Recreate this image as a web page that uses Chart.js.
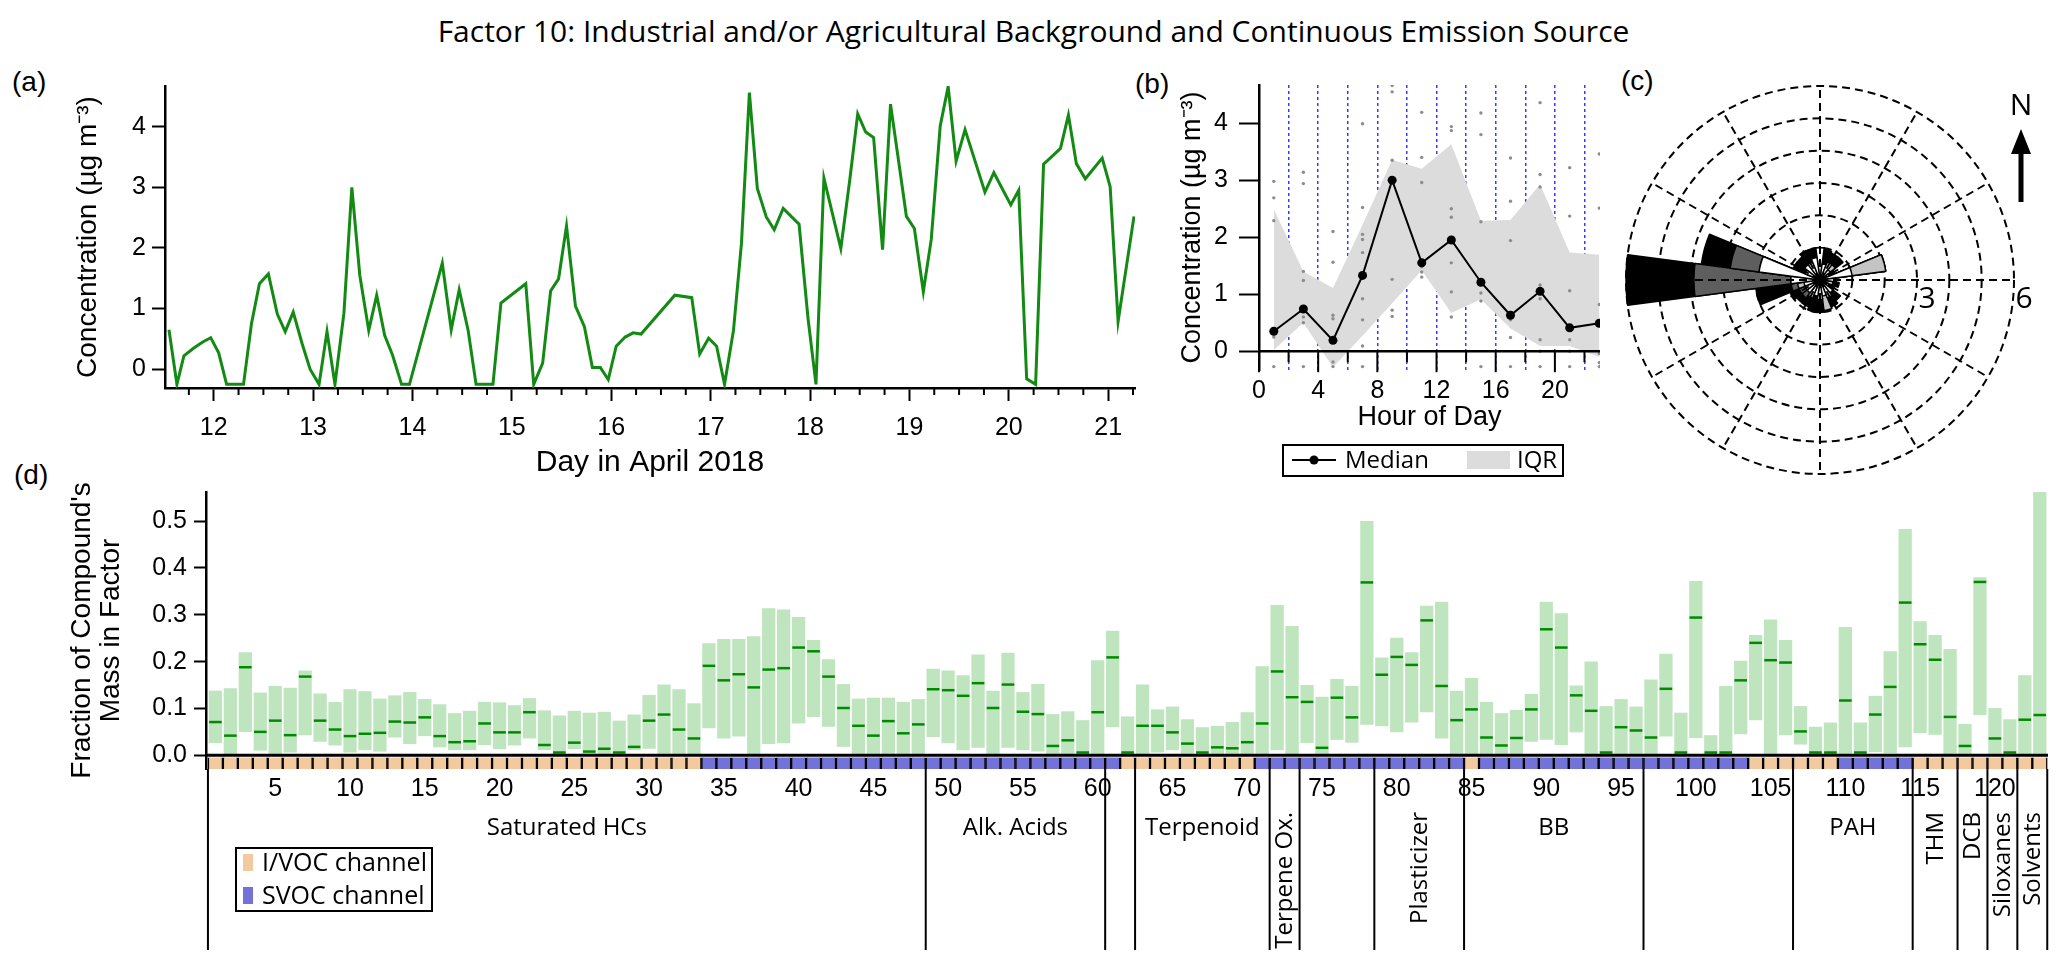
<!DOCTYPE html>
<html lang="en">
<head>
<meta charset="UTF-8">
<title>Factor 10: Industrial and/or Agricultural Background and Continuous Emission Source</title>
<script src="https://cdn.jsdelivr.net/npm/chart.js"></script>
<style>
  body { margin: 0; width: 2067px; height: 969px; background: #fff; position: relative; overflow: hidden;
         font-family: 'Liberation Sans', Arial, sans-serif; color: #000; }
  canvas { position: absolute; }
  .lbl { position: absolute; font-size: 28px; line-height: 28px; }
  #title { position: absolute; left: 0; width: 2067px; top: 16px; text-align: center;
           font: 30px/30px 'Open Sans', sans-serif; }
</style>
</head>
<body>
<div id="title">Factor 10: Industrial and/or Agricultural Background and Continuous Emission Source</div>
<div class="lbl" style="left:12px;top:68px">(a)</div>
<div class="lbl" style="left:1135px;top:70px">(b)</div>
<div class="lbl" style="left:1621px;top:67px">(c)</div>
<div class="lbl" style="left:14px;top:461px">(d)</div>
<canvas id="chartA" width="1160" height="430" style="left:0;top:60px"></canvas>
<canvas id="chartB" width="480" height="440" style="left:1140px;top:60px"></canvas>
<canvas id="chartC" width="447" height="440" style="left:1620px;top:60px"></canvas>
<canvas id="chartD" width="2067" height="489" style="left:0;top:480px"></canvas>

<script>
// ---- (a) time series ----
const seriesDays = [
  11.55, 11.63, 11.70, 11.80, 11.89, 11.97, 12.05, 12.13, 12.30, 12.38,
  12.46, 12.55, 12.64, 12.72, 12.80, 12.89, 12.97, 13.06, 13.14, 13.22,
  13.31, 13.39, 13.47, 13.56, 13.64, 13.72, 13.80, 13.89, 13.97, 14.30,
  14.39, 14.47, 14.56, 14.64, 14.81, 14.89, 15.14, 15.22, 15.31, 15.39,
  15.47, 15.55, 15.64, 15.73, 15.81, 15.89, 15.97, 16.05, 16.14, 16.22,
  16.30, 16.64, 16.81, 16.89, 16.98, 17.06, 17.14, 17.23, 17.31, 17.39,
  17.47, 17.56, 17.64, 17.73, 17.89, 17.98, 18.06, 18.14, 18.31, 18.40,
  18.48, 18.56, 18.64, 18.73, 18.81, 18.89, 18.97, 19.05, 19.14, 19.22,
  19.31, 19.39, 19.47, 19.56, 19.76, 19.85, 20.02, 20.10, 20.18, 20.27,
  20.35, 20.43, 20.52, 20.60, 20.68, 20.77, 20.94, 21.02, 21.10, 21.26
];
const seriesConc = [
  0.65, -0.25, 0.22, 0.35, 0.45, 0.52, 0.27, -0.25, -0.25, 0.75,
  1.41, 1.57, 0.91, 0.62, 0.94, 0.42, 0.00, -0.25, 0.62, -0.25,
  0.92, 3.00, 1.55, 0.64, 1.22, 0.56, 0.23, -0.25, -0.25, 1.75,
  0.65, 1.31, 0.64, -0.25, -0.25, 1.09, 1.41, -0.25, 0.10, 1.29,
  1.49, 2.36, 1.04, 0.70, 0.03, 0.03, -0.17, 0.38, 0.53, 0.60,
  0.58, 1.22, 1.18, 0.25, 0.51, 0.38, -0.25, 0.64, 2.07, 4.56,
  2.98, 2.51, 2.30, 2.65, 2.39, 0.84, -0.25, 3.15, 1.99, 3.12,
  4.21, 3.91, 3.82, 1.97, 4.37, 3.45, 2.52, 2.32, 1.28, 2.14,
  4.01, 4.66, 3.43, 3.95, 2.92, 3.24, 2.71, 2.95, -0.16, -0.25,
  3.38, 3.50, 3.64, 4.19, 3.39, 3.14, 3.48, 3.01, 0.79, 2.52
];
const dayTicks = [12, 13, 14, 15, 16, 17, 18, 19, 20, 21];
const concTicks = [0, 1, 2, 3, 4];

// ---- (b) diurnal profile ----
const hourBins = [1, 3, 5, 7, 9, 11, 13, 15, 17, 19, 21, 23];
const medianConc = [0.35, 0.74, 0.19, 1.33, 3.00, 1.55, 1.95, 1.21, 0.63, 1.05, 0.41, 0.49];
const iqrHigh = [2.49, 1.40, 1.11, 2.22, 3.36, 3.20, 3.63, 2.29, 2.30, 2.93, 1.73, 1.69];
const iqrLow = [0.02, 0.50, -0.28, 0.27, 0.84, 1.42, 0.67, 0.91, 0.40, 0.09, 0.09, -0.10];
const dotHour = [
  1, 1, 1, 1, 1,
  3, 3, 3, 3, 3, 3, 3,
  5, 5, 5, 5, 5, 5,
  7, 7, 7, 7, 7, 7, 7, 7, 7,
  9, 9, 9, 9, 9, 9,
  11, 11, 11, 11, 11, 11,
  13, 13, 13, 13, 13, 13, 13,
  15, 15, 15, 15, 15, 15,
  17, 17, 17, 17, 17, 17,
  19, 19, 19, 19, 19, 19, 19, 19,
  21, 21, 21, 21, 21, 21,
  23, 23, 23, 23, 23, 23
];
const dotConc = [
  2.98, 2.69, 2.29, 0.25, -0.27,
  3.14, 2.94, 1.40, 1.24, 0.60, 0.50, -0.27,
  2.10, 1.56, 0.63, 0.57, -0.19, -0.27,
  3.99, 2.52, 2.05, 1.96, 1.73, 0.92, 0.55, 0.09, -0.27,
  4.66, 4.55, 3.35, 1.26, 0.72, 0.61,
  4.19, 3.40, 2.96, 1.48, 1.39, 1.30,
  3.94, 3.87, 2.50, 2.35, 1.55, 1.04, 0.60,
  4.18, 3.80, 2.27, 1.02, 0.88, -0.27,
  3.39, 2.63, 1.94, 0.55, 0.24, -0.27,
  4.36, 3.10, 2.88, 1.16, 0.92, 0.20, 0.00, -0.27,
  3.22, 2.37, 1.06, 0.20, 0.00, -0.27,
  3.46, 2.51, 0.82, -0.04, -0.20, -0.27
];
const hourTicks = [0, 2, 4, 6, 8, 10, 12, 14, 16, 18, 20, 22];

// ---- (c) wind rose: 24 sectors, radius per bin (white, light grey, dark grey, black) ----
const windDirs = [0, 15, 30, 45, 60, 75, 90, 105, 120, 135, 150, 165,
                  180, 195, 210, 225, 240, 255, 270, 285, 300, 315, 330, 345];
const binWhite = [1.0, 0.5, 0.6, 0.4, 0.3, 1.0, 0.5, 0.4, 0.3, 0.5, 0.6, 0.5,
                  0.6, 0.5, 0.6, 0.5, 0.5, 0.5, 0.9, 1.9, 0.5, 0.6, 0.6, 0.7];
const binLight = [0, 0, 0, 0.2, 0, 1.05, 0, 0, 0, 0, 0, 0.45,
                  0, 0, 0, 0, 0, 0.2, 0, 0, 0, 0, 0, 0];
const binDark = [0, 0, 0, 0, 0, 0, 0, 0, 0, 0, 0, 0,
                 0, 0, 0, 0.2, 0.2, 0.2, 3.0, 0.9, 0, 0, 0, 0];
const binBlack = [0, 0.45, 0.3, 0.3, 0.2, 0, 0, 0.2, 0.2, 0.3, 0.3, 0,
                  0.4, 0.5, 0.3, 0.2, 0.3, 1.1, 2.1, 0.9, 0.4, 0.3, 0.4, 0.3];
const ringTicks = [3, 6];

// ---- (d) factor profile ----
const fracLow = [
  0.026, 0, 0.050, 0.010, 0, 0.006, 0.043, 0.029, 0.021, 0.006,
  0.011, 0.008, 0.038, 0.024, 0.041, 0.017, 0.011, 0.011, 0.022, 0.013,
  0.021, 0.036, 0.011, 0, 0.013, 0, 0, 0, 0.011, 0.014,
  0, 0, 0, 0.058, 0.036, 0.040, 0, 0.024, 0.026, 0.068,
  0.082, 0.061, 0.018, 0, 0, 0, 0, 0, 0.039, 0.026,
  0.011, 0.016, 0, 0.016, 0.011, 0.008, 0, 0, 0, 0,
  0.060, 0, 0, 0.006, 0.011, 0, 0, 0, 0, 0,
  0, 0.011, 0, 0.026, 0, 0.033, 0.027, 0.065, 0.062, 0.049,
  0.070, 0.092, 0.036, 0, 0, 0, 0, 0, 0.029, 0.033,
  0.022, 0.049, 0, 0, 0, 0, 0, 0.040, 0, 0.037,
  0, 0, 0.045, 0.075, 0, 0.043, 0.023, 0, 0, 0,
  0, 0.007, 0.004, 0.017, 0.047, 0.044, 0, 0, 0.086, 0,
  0, 0, 0
];
const fracHigh = [
  0.138, 0.143, 0.220, 0.134, 0.148, 0.144, 0.181, 0.132, 0.114, 0.141,
  0.137, 0.121, 0.128, 0.135, 0.120, 0.109, 0.090, 0.095, 0.114, 0.113,
  0.107, 0.122, 0.096, 0.085, 0.095, 0.091, 0.093, 0.074, 0.087, 0.129,
  0.151, 0.141, 0.111, 0.239, 0.248, 0.248, 0.254, 0.314, 0.311, 0.295,
  0.246, 0.205, 0.152, 0.121, 0.123, 0.123, 0.114, 0.120, 0.185, 0.181,
  0.171, 0.215, 0.138, 0.219, 0.135, 0.152, 0.088, 0.094, 0.075, 0.203,
  0.266, 0.083, 0.151, 0.098, 0.104, 0.077, 0.060, 0.063, 0.071, 0.092,
  0.190, 0.321, 0.276, 0.150, 0.125, 0.163, 0.148, 0.500, 0.209, 0.251,
  0.220, 0.319, 0.328, 0.138, 0.165, 0.114, 0.090, 0.097, 0.131, 0.328,
  0.303, 0.149, 0.200, 0.105, 0.120, 0.104, 0.162, 0.217, 0.091, 0.372,
  0.043, 0.148, 0.202, 0.257, 0.290, 0.246, 0.105, 0.061, 0.070, 0.274,
  0.070, 0.127, 0.222, 0.483, 0.286, 0.257, 0.227, 0.067, 0.380, 0.101,
  0.077, 0.171, 0.564
];
const fracMedian = [
  0.071, 0.042, 0.188, 0.050, 0.074, 0.043, 0.168, 0.074, 0.055, 0.041,
  0.046, 0.048, 0.072, 0.070, 0.081, 0.041, 0.028, 0.030, 0.068, 0.049,
  0.049, 0.092, 0.022, 0.006, 0.027, 0.008, 0.014, 0.006, 0.018, 0.074,
  0.087, 0.055, 0.036, 0.191, 0.160, 0.173, 0.145, 0.183, 0.186, 0.230,
  0.222, 0.168, 0.101, 0.063, 0.042, 0.073, 0.047, 0.066, 0.141, 0.139,
  0.127, 0.154, 0.101, 0.151, 0.093, 0.088, 0.020, 0.032, 0.006, 0.092,
  0.209, 0.006, 0.063, 0.063, 0.049, 0.025, 0.006, 0.017, 0.015, 0.028,
  0.068, 0.179, 0.124, 0.114, 0.016, 0.123, 0.081, 0.369, 0.172, 0.210,
  0.193, 0.288, 0.148, 0.075, 0.098, 0.038, 0.021, 0.037, 0.098, 0.269,
  0.230, 0.128, 0.095, 0.006, 0.060, 0.053, 0.038, 0.142, 0.006, 0.294,
  0.006, 0.006, 0.160, 0.240, 0.203, 0.198, 0.051, 0.006, 0.006, 0.117,
  0.006, 0.087, 0.146, 0.326, 0.237, 0.204, 0.082, 0.020, 0.370, 0.036,
  0.006, 0.076, 0.086
];
// channel of each compound, as runs: I = I/VOC, S = SVOC
const channelRuns = [['I', 33], ['S', 28], ['I', 9], ['S', 14], ['I', 1], ['S', 18], ['I', 6], ['S', 5], ['I', 9]];
const compTicks = [5, 10, 15, 20, 25, 30, 35, 40, 45, 50, 55, 60, 65, 70, 75, 80, 85, 90, 95, 100, 105, 110, 115, 120];
const fracTicks = [0, 0.1, 0.2, 0.3, 0.4, 0.5];
const groupBounds = [0.5, 48.5, 60.5, 62.5, 71.5, 73.5, 78.5, 84.5, 96.5, 106.5, 114.5, 117.5, 119.5, 121.5, 123.5];
const groupNames = ['Saturated HCs', 'Alk. Acids', '', 'Terpenoid', 'Terpene Ox.', '', 'Plasticizer', 'BB', '', 'PAH',
                    'THM', 'DCB', 'Siloxanes', 'Solvents'];
const groupVertical = [false, false, false, false, true, false, true, false, false, false, true, true, true, true];

// ---- styling ----
Chart.defaults.font.family = "'Liberation Sans', Arial, sans-serif";
Chart.defaults.color = '#000';
Chart.defaults.animation = false;
const LABEL_FONT = "'Open Sans', sans-serif";
const CHANNEL_COLORS = { I: '#f3caa0', S: '#7272d8' };
const STRIP = [-0.0292, -0.0045];

function fixWidth(w) {
  return s => { s.width = w; s.paddingTop = s.paddingBottom = s.paddingLeft = s.paddingRight = 0; };
}
function fixHeight(h) {
  return s => { s.height = h; s.paddingTop = s.paddingBottom = s.paddingLeft = s.paddingRight = 0; };
}
function setTicks(list) {
  return s => { s.ticks = list.map(v => ({ value: v })); };
}
const noPlugins = { legend: { display: false }, tooltip: { enabled: false } };

// ---------- (a) ----------
const quarterTicks = {
  id: 'quarterTicks',
  afterDraw(chart) {
    const { ctx, chartArea } = chart;
    const x = chart.scales.x;
    ctx.save();
    ctx.strokeStyle = '#000';
    ctx.lineWidth = 2;
    for (let q = Math.ceil(x.min * 4); q <= x.max * 4; q++) {
      if (q % 4 === 0) continue;
      const px = x.getPixelForValue(q / 4);
      ctx.beginPath();
      ctx.moveTo(px, chartArea.bottom);
      ctx.lineTo(px, chartArea.bottom + 7);
      ctx.stroke();
    }
    ctx.restore();
  }
};

new Chart(document.getElementById('chartA'), {
  type: 'line',
  data: {
    datasets: [{
      data: seriesDays.map((d, i) => ({ x: d, y: seriesConc[i] })),
      borderColor: '#138a13',
      borderWidth: 3,
      pointRadius: 0,
      fill: false
    }]
  },
  options: {
    responsive: false,
    layout: { padding: { top: 26, right: 25, left: 0, bottom: 0 } },
    plugins: noPlugins,
    scales: {
      x: {
        type: 'linear', min: 11.51, max: 21.27,
        afterBuildTicks: setTicks(dayTicks),
        afterFit: fixHeight(102),
        border: { color: '#000', width: 2.5 },
        grid: { drawOnChartArea: false, tickLength: 13, tickColor: '#000', tickWidth: 2 },
        ticks: { font: { size: 25 }, padding: 12, maxRotation: 0, autoSkip: false },
        title: { display: true, text: 'Day in April 2018', font: { size: 30 }, padding: { top: 0, bottom: 9 } }
      },
      y: {
        min: -0.31, max: 4.67,
        afterBuildTicks: setTicks(concTicks),
        afterFit: fixWidth(165),
        border: { color: '#000', width: 2.5 },
        grid: { drawOnChartArea: false, tickLength: 13, tickColor: '#000', tickWidth: 2 },
        ticks: { font: { size: 25 }, padding: 6 },
        title: { display: true, text: 'Concentration (µg m⁻³)', font: { size: 28 }, padding: { top: 71, bottom: 0 } }
      }
    }
  },
  plugins: [quarterTicks]
});

// ---------- (b) ----------
const hourAxis = {
  id: 'hourAxis',
  afterDatasetsDraw(chart) {
    const { ctx, chartArea } = chart;
    const { x, y } = chart.scales;
    const y0 = y.getPixelForValue(0);
    ctx.save();
    ctx.strokeStyle = '#000';
    ctx.lineWidth = 2.5;
    ctx.beginPath();
    ctx.moveTo(chartArea.left, y0);
    ctx.lineTo(chartArea.right, y0);
    ctx.stroke();
    ctx.lineWidth = 2;
    hourTicks.forEach(h => {
      const px = x.getPixelForValue(h);
      ctx.beginPath();
      ctx.moveTo(px, y0);
      ctx.lineTo(px, y0 + (h % 4 === 0 ? 21 : 11));
      ctx.stroke();
    });
    ctx.restore();
  },
  afterDraw(chart) {
    const ctx = chart.ctx;
    ctx.save();
    ctx.strokeStyle = '#000';
    ctx.lineWidth = 2;
    ctx.strokeRect(143, 385, 280, 31);
    ctx.beginPath();
    ctx.moveTo(152, 400);
    ctx.lineTo(196, 400);
    ctx.stroke();
    ctx.fillStyle = '#000';
    ctx.beginPath();
    ctx.arc(174, 400, 4.5, 0, Math.PI * 2);
    ctx.fill();
    ctx.fillStyle = '#dcdcdc';
    ctx.fillRect(327, 391, 43, 18);
    ctx.fillStyle = '#000';
    ctx.font = '24px ' + LABEL_FONT;
    ctx.textBaseline = 'middle';
    ctx.fillText('Median', 205, 401);
    ctx.fillText('IQR', 377, 401);
    ctx.restore();
  }
};

new Chart(document.getElementById('chartB'), {
  type: 'line',
  data: {
    datasets: [
      {
        data: hourBins.map((h, i) => ({ x: h, y: medianConc[i] })),
        borderColor: '#000', borderWidth: 2,
        pointRadius: 4.5, pointBackgroundColor: '#000', pointBorderWidth: 0
      },
      {
        data: dotHour.map((h, i) => ({ x: h, y: dotConc[i] })),
        showLine: false,
        pointRadius: 1.7, pointBackgroundColor: '#8c8c8c', pointBorderWidth: 0
      },
      {
        data: hourBins.map((h, i) => ({ x: h, y: iqrHigh[i] })),
        borderWidth: 0, pointRadius: 0,
        fill: '+1', backgroundColor: '#dcdcdc'
      },
      {
        data: hourBins.map((h, i) => ({ x: h, y: iqrLow[i] })),
        borderWidth: 0, pointRadius: 0, fill: false
      }
    ]
  },
  options: {
    responsive: false,
    layout: { padding: { top: 25, right: 20, left: 0, bottom: 0 } },
    plugins: noPlugins,
    scales: {
      x: {
        type: 'linear', min: 0, max: 23.05,
        afterBuildTicks: setTicks(hourTicks),
        afterFit: fixHeight(130),
        border: { display: false, dash: [3, 3] },
        grid: {
          color: c => (c.tick && c.tick.value === 0 ? 'rgba(0,0,0,0)' : '#3a3aff'),
          lineWidth: 1.5, drawTicks: false
        },
        ticks: { font: { size: 25 }, padding: 6, maxRotation: 0, autoSkip: false,
                 callback: v => (v % 4 === 0 ? v : '') },
        title: { display: true, text: 'Hour of Day', font: { size: 27 }, padding: { top: 0, bottom: 66 } }
      },
      y: {
        min: -0.33, max: 4.67,
        afterBuildTicks: setTicks(concTicks),
        afterFit: fixWidth(119),
        border: { color: '#000', width: 2.5 },
        grid: { drawOnChartArea: false, tickLength: 20, tickColor: '#000', tickWidth: 2 },
        ticks: { font: { size: 25 }, padding: 11 },
        title: { display: true, text: 'Concentration (µg m⁻³)', font: { size: 27 }, padding: { top: 36, bottom: 0 } }
      }
    }
  },
  plugins: [hourAxis]
});

// ---------- (c) ----------
const roseBins = [binWhite, binLight, binDark, binBlack];
const cumulative = roseBins.map((_, k) =>
  windDirs.map((d, i) => roseBins.slice(0, k + 1).reduce((s, b) => s + b[i], 0)));
const roseColors = ['#ffffff', '#c4c4c4', '#5e5e5e', '#000000'];

const compass = {
  id: 'compass',
  afterDatasetsDraw(chart) {
    const ctx = chart.ctx;
    const r = chart.scales.r;
    ctx.save();
    ctx.strokeStyle = '#000';
    ctx.lineWidth = 2;
    ctx.setLineDash([8, 5]);
    for (let b = 0; b < 360; b += 30) {
      const a = (b - 90) * Math.PI / 180;
      ctx.beginPath();
      ctx.moveTo(r.xCenter, r.yCenter);
      ctx.lineTo(r.xCenter + Math.cos(a) * r.drawingArea, r.yCenter + Math.sin(a) * r.drawingArea);
      ctx.stroke();
    }
    ctx.restore();
  },
  afterDraw(chart) {
    const ctx = chart.ctx;
    const r = chart.scales.r;
    ctx.save();
    ctx.fillStyle = '#000';
    ctx.font = '30px ' + LABEL_FONT;
    ctx.textBaseline = 'middle';
    ctx.textAlign = 'center';
    ringTicks.forEach(v => {
      ctx.fillText(String(v), r.xCenter + r.getDistanceFromCenterForValue(v) + 10, r.yCenter + 19);
    });
    ctx.fillText('N', 401, 46);
    ctx.fillRect(398.5, 92, 5, 50);
    ctx.beginPath();
    ctx.moveTo(401, 69);
    ctx.lineTo(411, 94);
    ctx.lineTo(391, 94);
    ctx.closePath();
    ctx.fill();
    ctx.restore();
  }
};

new Chart(document.getElementById('chartC'), {
  type: 'polarArea',
  data: {
    labels: windDirs.map(String),
    datasets: cumulative.map((vals, k) => ({
      data: vals,
      backgroundColor: roseColors[k],
      borderColor: '#000',
      borderWidth: 1.5
    }))
  },
  options: {
    responsive: false,
    layout: { padding: { left: 6, right: 53, top: 26, bottom: 26 } },
    plugins: noPlugins,
    scales: {
      r: {
        min: 0, max: 6, startAngle: -7.5,
        ticks: { display: false, stepSize: 1 },
        grid: { circular: true, color: '#000', lineWidth: 2 },
        border: { dash: [8, 5] },
        angleLines: { display: false },
        pointLabels: { display: false }
      }
    }
  },
  plugins: [compass]
});

// ---------- (d) ----------
const compChannel = channelRuns.flatMap(([c, n]) => Array(n).fill(c));
const compIndex = compChannel.map((_, i) => i + 1);

const profileDecor = {
  id: 'profileDecor',
  afterDatasetsDraw(chart) {
    const { ctx, chartArea } = chart;
    const y0 = chart.scales.y.getPixelForValue(0);
    ctx.save();
    ctx.strokeStyle = '#000';
    ctx.lineWidth = 3;
    ctx.beginPath();
    ctx.moveTo(chartArea.left, y0);
    ctx.lineTo(chartArea.right, y0);
    ctx.stroke();
    ctx.restore();
  },
  afterDraw(chart) {
    const { ctx, chartArea } = chart;
    const x = chart.scales.x;
    ctx.save();
    ctx.strokeStyle = '#000';
    ctx.lineWidth = 2;
    groupBounds.forEach(b => {
      const px = x.getPixelForValue(b);
      ctx.beginPath();
      ctx.moveTo(px, chartArea.bottom);
      ctx.lineTo(px, 470);
      ctx.stroke();
    });
    ctx.fillStyle = '#000';
    ctx.font = '24px ' + LABEL_FONT;
    groupNames.forEach((name, i) => {
      if (!name) return;
      const cx = (x.getPixelForValue(groupBounds[i]) + x.getPixelForValue(groupBounds[i + 1])) / 2;
      if (groupVertical[i]) {
        ctx.save();
        ctx.translate(cx + 1, 332);
        ctx.rotate(-Math.PI / 2);
        ctx.textAlign = 'right';
        ctx.textBaseline = 'middle';
        ctx.fillText(name, 0, 0);
        ctx.restore();
      } else {
        ctx.textAlign = 'center';
        ctx.textBaseline = 'alphabetic';
        ctx.fillText(name, cx, 355);
      }
    });
    // channel legend
    ctx.lineWidth = 2;
    ctx.strokeRect(236, 368, 196, 63);
    ctx.fillStyle = CHANNEL_COLORS.I;
    ctx.fillRect(243, 374, 10, 17);
    ctx.fillStyle = CHANNEL_COLORS.S;
    ctx.fillRect(243, 407, 10, 17);
    ctx.fillStyle = '#000';
    ctx.font = '25px ' + LABEL_FONT;
    ctx.textAlign = 'left';
    ctx.textBaseline = 'middle';
    ctx.fillText('I/VOC channel', 262, 384);
    ctx.fillText('SVOC channel', 262, 417);
    ctx.restore();
  }
};

new Chart(document.getElementById('chartD'), {
  type: 'bar',
  data: {
    datasets: [
      {
        type: 'line',
        data: compIndex.map((c, i) => ({ x: c, y: fracMedian[i] })),
        showLine: false,
        pointStyle: 'line',
        pointRadius: 6.3,
        pointBorderWidth: 2.5,
        pointBorderColor: '#008a00',
        pointHoverRadius: 0
      },
      {
        data: compIndex.map((c, i) => ({ x: c, y: [fracLow[i], fracHigh[i]] })),
        backgroundColor: '#bfe5bf',
        barPercentage: 0.89, categoryPercentage: 1, grouped: false
      },
      {
        data: compIndex.map(c => ({ x: c, y: STRIP })),
        backgroundColor: compChannel.map(c => CHANNEL_COLORS[c]),
        borderColor: '#000',
        borderWidth: { left: 1.5, right: 1.5, top: 0, bottom: 0 },
        borderSkipped: false,
        barPercentage: 1, categoryPercentage: 1, grouped: false
      }
    ]
  },
  options: {
    responsive: false,
    layout: { padding: { top: 12, right: 19, left: 0, bottom: 0 } },
    plugins: noPlugins,
    scales: {
      x: {
        type: 'linear', min: 0.37, max: 123.55, offset: false,
        afterBuildTicks: setTicks(compTicks),
        afterFit: fixHeight(200),
        border: { display: false },
        grid: { display: false, drawTicks: false, offset: false },
        ticks: { font: { size: 25 }, padding: 5, maxRotation: 0, autoSkip: false }
      },
      y: {
        min: STRIP[0], max: 0.562,
        afterBuildTicks: setTicks(fracTicks),
        afterFit: fixWidth(206),
        border: { color: '#000', width: 2.5 },
        grid: { drawOnChartArea: false, tickLength: 12, tickColor: '#000', tickWidth: 2 },
        ticks: { font: { size: 25 }, padding: 7, callback: v => v.toFixed(1) },
        title: { display: true, text: ["Fraction of Compound's", 'Mass in Factor'],
                 font: { size: 28, lineHeight: 1.04 }, padding: { top: 68, bottom: 0 } }
      }
    }
  },
  plugins: [profileDecor]
});
</script>
</body>
</html>
